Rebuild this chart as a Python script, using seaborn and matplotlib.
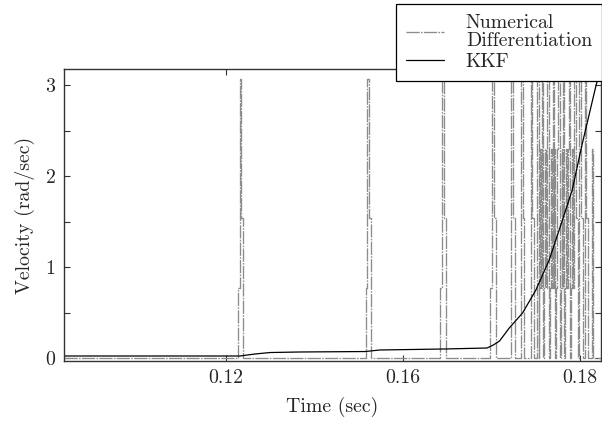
import numpy as np
import pandas as pd
import seaborn as sns
import matplotlib.pyplot as plt
from matplotlib.ticker import MultipleLocator

# quantum of the encoder based derivative (rad/sec) and its sample period (sec)
quantum = 0.767
dt = 0.0002

# KKF estimate
kkf_time = [0.1217, 0.1416, 0.1433, 0.1450, 0.1483, 0.1557, 0.1574, 0.1647,
            0.1695, 0.1702, 0.1709, 0.1720, 0.1735, 0.1750, 0.1765, 0.1780,
            0.1791, 0.1802, 0.1814, 0.1818, 0.1823]
kkf_vel = [0.022, 0.022, 0.044, 0.060, 0.066, 0.071, 0.088, 0.099,
           0.110, 0.143, 0.187, 0.330, 0.495, 0.747, 1.077, 1.516,
           1.846, 2.340, 2.835, 3.000, 3.165]

# isolated pulses of the numerical derivative (start times) and their shape, in quanta
pulse_start = [0.14135, 0.15578, 0.16423, 0.16986]
pulse_shape = [1, 4, 2, 0]

# dense part of the numerical derivative, one level (in quanta) per half sample
dense_start = 0.17200
dense_levels = [0, 0, 4, 4, 2, 2, 0, 0, 0, 0, 0, 0, 0,
                4, 4, 2, 2, 0, 0, 0, 0, 0, 0, 0,
                4, 4, 2, 2, 0, 0, 0,
                4, 4, 0, 1, 3, 1,
                4, 0, 1, 3, 1, 3,
                4, 4, 0, 1, 3, 1,
                4, 1, 3, 0, 1, 3,
                4, 4, 0, 1, 3, 1,
                4, 0, 1, 3, 1, 3,
                4, 4, 0, 1, 3, 1,
                4, 4, 2, 2, 0, 0,
                4, 4, 2, 2, 0, 0,
                4, 4, 2, 2, 0, 0,
                0, 0, 3, 3, 0, 0, 0, 0]

t_start, t_end = 0.12174, 0.18235

# x tick positions and the labels printed under them
xtick_pos = [0.14, 0.16, 0.18]
xtick_lab = ['0.12', '0.16', '0.18']

# build the step table of the numerical derivative
nd_t = [t_start]
nd_v = [0.0]
for s in pulse_start:
    for k, lev in enumerate(pulse_shape):
        nd_t.append(s + k * dt)
        nd_v.append(lev * quantum)
for i, lev in enumerate(dense_levels):
    nd_t.append(dense_start + i * dt / 2)
    nd_v.append(lev * quantum)
nd_t.append(t_end)
nd_v.append(0.0)

nd = pd.DataFrame({'t': nd_t, 'v': nd_v})
kkf = pd.DataFrame({'t': kkf_time, 'v': kkf_vel})

sns.set_theme(style='ticks')
plt.rcParams['font.family'] = ['cmr10', 'DejaVu Serif']
plt.rcParams['mathtext.fontset'] = 'cm'
plt.rcParams['axes.formatter.use_mathtext'] = True

fs = 14.3
fig = plt.figure(figsize=(6.02, 4.21), dpi=100)
ax = fig.add_axes([64 / 602, 1 - 361 / 421, (601 - 64) / 602, (361 - 69) / 421])

sns.lineplot(data=nd, x='t', y='v', ax=ax, color='#8c8c8c', lw=0.95,
             linestyle=(0, (10, 1.0, 1.2, 1.0)), drawstyle='steps-post',
             estimator=None, sort=False, label='Numerical\nDifferentiation')
sns.lineplot(data=kkf, x='t', y='v', ax=ax, color='black', lw=0.9,
             estimator=None, sort=False, label='KKF')

ax.set_xlim(t_start, t_end)
ax.set_ylim(-0.033, 3.176)
ax.set_xticks(xtick_pos)
ax.set_xticklabels(xtick_lab)
ax.set_yticks([0, 1, 2, 3])
ax.yaxis.set_minor_locator(MultipleLocator(0.5))

ax.tick_params(which='both', direction='in', length=4, width=0.8, color='#333333',
               top=True, right=True, labelsize=fs, pad=6)
for sp in ax.spines.values():
    sp.set_visible(True)
    sp.set_color('#333333')
    sp.set_linewidth(1.0)

ax.set_xlabel('Time (sec)', fontsize=fs, labelpad=7)
ax.set_ylabel('Velocity (rad/sec)', fontsize=fs, labelpad=7)

handles, labels = ax.get_legend_handles_labels()
if ax.get_legend() is not None:
    ax.get_legend().remove()
leg = fig.legend(handles, labels, loc='upper right', bbox_to_anchor=(1.0, 0.99),
                 fontsize=fs, frameon=True, fancybox=False, framealpha=1,
                 edgecolor='black', borderaxespad=0, handlelength=1.9,
                 handletextpad=1.1, labelspacing=0.15, borderpad=0.5)
leg.get_frame().set_linewidth(0.9)
for txt in leg.get_texts():
    txt.set_linespacing(1.0)

fig.savefig('out.png', dpi=100)
